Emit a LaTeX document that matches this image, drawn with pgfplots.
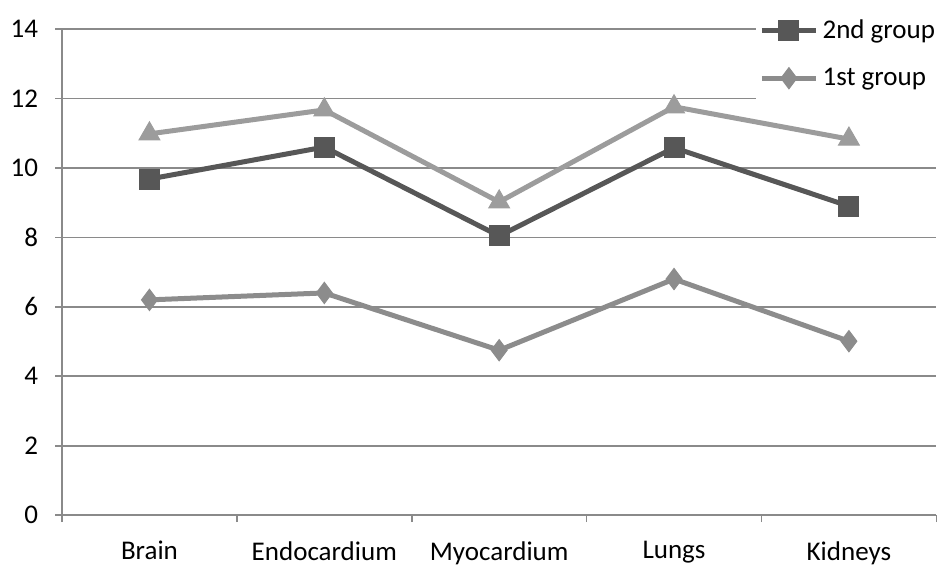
\documentclass[border=0pt]{standalone}
\usepackage{pgfplots}
\pgfplotsset{compat=1.18}
\usepackage{fontspec}
\setmainfont{Carlito}
\definecolor{sqc}{HTML}{575757}
\definecolor{dic}{HTML}{8C8C8C}
\definecolor{trc}{HTML}{9C9C9C}
\definecolor{gridc}{HTML}{8A8A8A}
\begin{document}
\begin{tikzpicture}
\begin{axis}[
  scale only axis, width=437pt, height=243pt,
  xmin=-0.5, xmax=4.5, ymin=0, ymax=14,
  axis x line*=bottom, axis y line*=left,
  axis line style={gridc, line width=1pt},
  ytick={0,2,...,14},
  ymajorgrids, grid style={gridc, line width=0.8pt},
  xtick={-0.5,0.5,1.5,2.5,3.5,4.5}, xticklabels={},
  extra x ticks={0,1,2,3,4},
  extra x tick labels={Brain,Endocardium,Myocardium,Lungs,Kidneys},
  extra x tick style={tick style={draw=none}, xticklabel style={yshift=-6pt}},
  tick align=outside, major tick length=3.5pt,
  tick style={gridc, line width=0.8pt},
  ticklabel style={font=\fontsize{13.5}{16}\selectfont},
  /pgf/number format/assume math mode=true,
  yticklabel style={xshift=-5pt},
  clip=false,
  legend style={at={(rel axis cs:1.007,1.06)}, anchor=north east, draw=none, fill=white,
    font=\fontsize{13.5}{16}\selectfont, row sep=9.5pt, inner xsep=1.5pt, inner ysep=7.5pt,
    cells={anchor=west}},
  legend image code/.code={\draw[#1,mark repeat=2,mark phase=2,line width=2.6pt] plot coordinates {(0pt,0pt) (13.5pt,0pt) (27pt,0pt)};},
]
\addplot[sqc, line width=2.5pt, mark=square*, mark size=5pt, mark options={solid, fill=sqc, draw=sqc, line width=0.5pt}]
  coordinates {(0,9.68) (1,10.6) (2,8.04) (3,10.58) (4,8.9)};
\addlegendentry{2nd group}
\addplot[dic, line width=2.5pt, mark=diamond*, mark size=5.3pt, mark options={solid, fill=dic, draw=dic, line width=0.5pt}]
  coordinates {(0,6.2) (1,6.4) (2,4.75) (3,6.8) (4,5.01)};
\addlegendentry{1st group}
\addplot[trc, line width=2.5pt, mark=triangle*, mark size=6pt, mark options={solid, fill=trc, draw=trc, line width=0.5pt}, forget plot]
  coordinates {(0,10.98) (1,11.67) (2,9.02) (3,11.76) (4,10.83)};
\end{axis}
\path (current axis.south west) ++(-31pt,-24pt);
\path (current axis.north east) ++(3pt,14.5pt);
\end{tikzpicture}
\end{document}
